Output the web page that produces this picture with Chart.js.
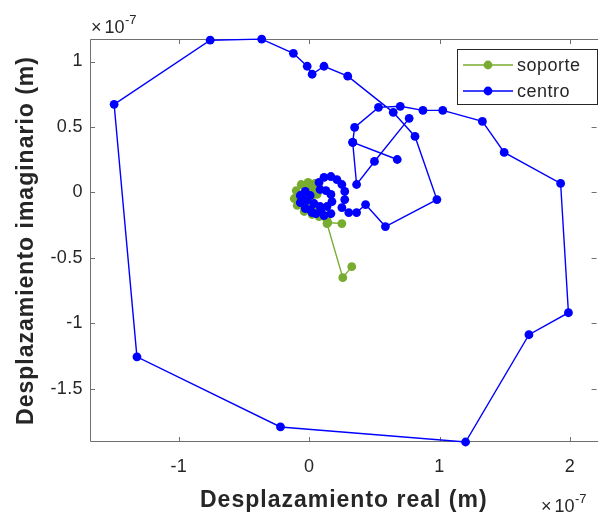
<!DOCTYPE html>
<html>
<head>
<meta charset="utf-8">
<script src="https://cdn.jsdelivr.net/npm/chart.js@4.4.1/dist/chart.umd.min.js"></script>
<style>
  html, body { margin: 0; padding: 0; background: #ffffff; }
  #wrap { width: 601px; height: 515px; }
</style>
</head>
<body>
<div id="wrap"><canvas id="c" width="601" height="515"></canvas></div>
<script>
// Complex displacement (real, imaginary), in units of 1e-7 m
const soporteRe = [0.327, 0.258, 0.137, 0.076, 0.023, -0.038, -0.091, -0.114, -0.099, -0.061,
  -0.008, 0.046, 0.076, 0.061, 0.015, -0.023, -0.023, 0.023, 0.046, 0.015,
  -0.046, -0.068, -0.038, 0.030, 0.084, 0.144, 0.144, 0.251];
const soporteIm = [-0.566, -0.650, -0.237, -0.184, -0.168, -0.145, -0.099, -0.046, 0.015, 0.061,
  0.077, 0.069, 0.031, -0.015, -0.038, -0.015, 0.031, 0.038, -0.008, -0.069,
  -0.084, -0.038, -0.008, -0.107, -0.138, -0.176, -0.230, -0.237];

const centroRe = [0.767, 0.501, 0.364, 0.334, 0.676, 0.334, 0.349, 0.532, 0.699, 0.873,
  1.025, 1.329, 1.496, 1.929, 1.989, 1.686, 1.200, -0.220, -1.321, -1.496,
  -0.759, -0.364, -0.121, -0.015, 0.023, 0.114, 0.296, 0.645, 0.812, 0.980,
  0.585, 0.433, 0.364, 0.304, 0.251, 0.273, 0.273, 0.251, 0.213, 0.167,
  0.114, 0.076, 0.084, 0.129, 0.167, 0.175, 0.137, 0.084, 0.038, 0.008,
  0.053, 0.114, 0.167, 0.091, 0.023, -0.030, -0.068, -0.068, -0.030, 0.008,
  -0.015, -0.053];
const centroIm = [0.566, 0.237, 0.061, 0.383, 0.252, 0.383, 0.497, 0.650, 0.658, 0.627,
  0.627, 0.543, 0.306, 0.069, -0.918, -1.086, -1.905, -1.790, -1.255, 0.673,
  1.163, 1.171, 1.063, 0.964, 0.903, 0.964, 0.888, 0.612, 0.428, -0.054,
  -0.260, -0.092, -0.153, -0.153, -0.115, -0.054, 0.008, 0.061, 0.099, 0.122,
  0.115, 0.077, 0.023, 0.015, -0.015, -0.069, -0.107, -0.107, -0.084, -0.130,
  -0.161, -0.176, -0.161, -0.145, -0.153, -0.122, -0.077, -0.023, 0.008, -0.023,
  -0.061, -0.046];

const seriesNames = ['soporte', 'centro'];
const seriesColors = ['#77AC30', '#0000FF'];
const xTickValues = [-1, 0, 1, 2];
const yTickValues = [-1.5, -1, -0.5, 0, 0.5, 1];
const axisExponent = '-7';
const xTitle = 'Desplazamiento real (m)';
const yTitle = 'Desplazamiento imaginario (m)';

const xLimits = [-1.681, 2.205];
const yLimits = [-1.905, 1.172];

const FONT = "'Liberation Sans', Arial, Helvetica, sans-serif";
const TEXT = '#262626';
const AXIS = '#6f6f6f';

const toPoints = (re, im) => re.map((v, i) => ({ x: v, y: im[i] }));

const series = [
  toPoints(soporteRe, soporteIm),
  toPoints(centroRe, centroIm)
];

const datasets = series.map((pts, i) => ({
  label: seriesNames[i],
  data: pts,
  showLine: true,
  borderColor: seriesColors[i],
  backgroundColor: seriesColors[i],
  pointBackgroundColor: seriesColors[i],
  pointBorderColor: seriesColors[i],
  pointBorderWidth: 0,
  borderWidth: 1.4,
  pointRadius: 4.4,
  pointHoverRadius: 4.4,
  tension: 0,
  clip: false,
  order: series.length - i
}));

// "×10" followed by a raised exponent
function drawExponent(ctx, x, baseline) {
  ctx.save();
  ctx.fillStyle = TEXT;
  ctx.textBaseline = 'alphabetic';
  ctx.textAlign = 'left';
  ctx.letterSpacing = '0px';
  ctx.font = '18px ' + FONT;
  ctx.fillText('\u00D7', x, baseline);
  const wx = ctx.measureText('\u00D7').width;
  ctx.fillText('10', x + wx + 3, baseline);
  const w10 = ctx.measureText('10').width;
  ctx.font = '13px ' + FONT;
  ctx.fillText(axisExponent, x + wx + 3 + w10 + 0.5, baseline - 9);
  ctx.restore();
}

const axesDecor = {
  id: 'axesDecor',
  beforeDraw(chart) {
    chart.ctx.letterSpacing = '0.4px';
  },
  beforeDatasetsDraw(chart) {
    const { ctx, chartArea: a, scales: { x, y } } = chart;
    ctx.save();
    ctx.strokeStyle = AXIS;
    ctx.lineWidth = 1;
    const L = a.left + 0.5, T = a.top + 0.5, B = a.bottom - 0.5, R = a.right + 1.5;
    ctx.beginPath();
    ctx.moveTo(R, T); ctx.lineTo(L, T); ctx.lineTo(L, B); ctx.lineTo(R, B);
    ctx.stroke();
    const tl = 5;
    ctx.beginPath();
    xTickValues.forEach(v => {
      const px = Math.round(x.getPixelForValue(v)) + 0.5;
      ctx.moveTo(px, a.bottom); ctx.lineTo(px, a.bottom - tl);
      ctx.moveTo(px, a.top); ctx.lineTo(px, a.top + tl);
    });
    yTickValues.forEach(v => {
      const py = Math.round(y.getPixelForValue(v)) + 0.5;
      ctx.moveTo(a.left, py); ctx.lineTo(a.left + tl, py);
      ctx.moveTo(a.right, py); ctx.lineTo(a.right - tl, py);
    });
    ctx.stroke();
    ctx.restore();
  },
  afterDatasetsDraw(chart) {
    const { ctx, chartArea: a } = chart;
    ctx.save();
    // legend box
    const bx = 457.5, by = 49.5, bw = 140, bh = 55;
    ctx.fillStyle = '#ffffff';
    ctx.fillRect(bx, by, bw, bh);
    ctx.strokeStyle = TEXT;
    ctx.lineWidth = 1;
    ctx.strokeRect(bx, by, bw, bh);
    const rowsY = [65, 91];
    chart.data.datasets.forEach((ds, i) => {
      const yy = rowsY[i];
      ctx.strokeStyle = ds.borderColor;
      ctx.lineWidth = 1.4;
      ctx.beginPath();
      ctx.moveTo(463, yy); ctx.lineTo(513, yy);
      ctx.stroke();
      ctx.fillStyle = ds.borderColor;
      ctx.beginPath();
      ctx.arc(488, yy, 4.4, 0, Math.PI * 2);
      ctx.fill();
      ctx.fillStyle = TEXT;
      ctx.font = '18px ' + FONT;
      ctx.letterSpacing = '0.5px';
      ctx.textBaseline = 'middle';
      ctx.textAlign = 'left';
      ctx.fillText(ds.label, 517, yy + 1);
    });
    // axis titles
    ctx.fillStyle = TEXT;
    ctx.font = 'bold 23px ' + FONT;
    ctx.letterSpacing = '1px';
    ctx.textAlign = 'center';
    ctx.textBaseline = 'alphabetic';
    ctx.fillText(xTitle, (a.left + a.right) / 2 + 0.5, 507);
    ctx.save();
    ctx.translate(33, (a.top + a.bottom) / 2);
    ctx.rotate(-Math.PI / 2);
    ctx.fillText(yTitle, 0, 0);
    ctx.restore();
    // exponent labels
    drawExponent(ctx, 91, 33);
    drawExponent(ctx, 541, 512);
    ctx.restore();
  }
};

new Chart(document.getElementById('c'), {
  type: 'scatter',
  data: { datasets },
  options: {
    responsive: false,
    animation: false,
    events: [],
    layout: { padding: { top: 39, right: 0, left: 0, bottom: 0 } },
    plugins: { legend: { display: false }, tooltip: { enabled: false } },
    scales: {
      x: {
        type: 'linear',
        min: xLimits[0],
        max: xLimits[1],
        afterBuildTicks: s => { s.ticks = xTickValues.map(v => ({ value: v })); },
        afterFit: s => { s.height = 515 - 442; },
        grid: { display: false, drawTicks: false },
        border: { display: false },
        ticks: {
          padding: 14,
          color: TEXT,
          font: { family: FONT, size: 18 },
          maxRotation: 0,
          callback: v => String(v)
        }
      },
      y: {
        type: 'linear',
        min: yLimits[0],
        max: yLimits[1],
        afterBuildTicks: s => { s.ticks = yTickValues.map(v => ({ value: v })); },
        afterFit: s => { s.width = 90; },
        grid: { display: false, drawTicks: false },
        border: { display: false },
        ticks: {
          padding: 7,
          color: TEXT,
          font: { family: FONT, size: 18 },
          callback: v => String(v)
        }
      }
    }
  },
  plugins: [axesDecor]
});
</script>
</body>
</html>
